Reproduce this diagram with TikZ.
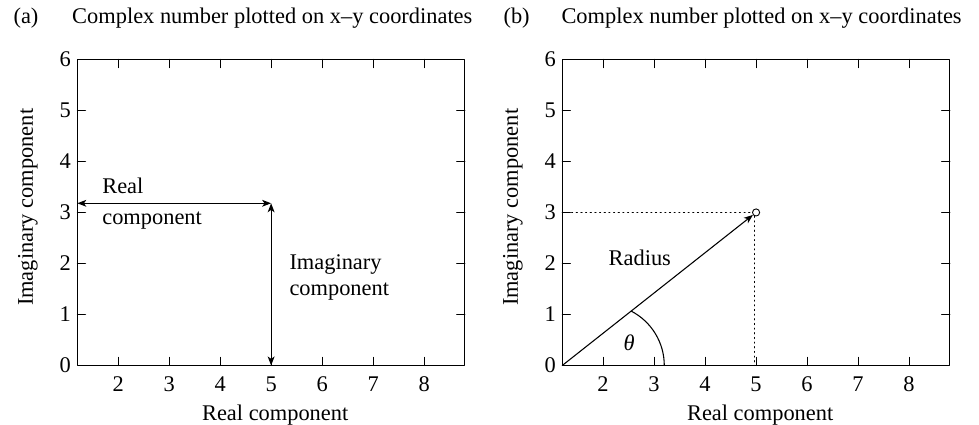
\documentclass[tikz,border=0pt]{standalone}
\usepackage{fontspec}
\setmainfont{Liberation Serif}
\usetikzlibrary{arrows.meta}

\begin{document}
\begin{tikzpicture}[>={Stealth[length=5pt,width=3.8pt,inset=1.3pt]}, font=\fontsize{12.5}{15}\selectfont, line join=round, line cap=round, line width=0.6pt]
        \def\xmin{1.2} \def\xmax{8.8} \def\ymax{6} \def\tk{0.16}
        \useasboundingbox (0,0) rectangle (19.196,8.333);
        % titles
        \node[anchor=base west, inner sep=0] (ta) at (0.255,7.88) {(a)};
        \node[anchor=base west, inner sep=0] (tta) at (1.406,7.88) {Complex number plotted on x--y coordinates};
        \node[anchor=base west, inner sep=0] (tb) at (9.863,7.88) {(b)};
        \node[anchor=base west, inner sep=0] (ttb) at (11.0,7.88) {Complex number plotted on x--y coordinates};
        % both frames
        \foreach \p/\sx in {a/0.316,b/9.825}{
          \begin{scope}[shift={(\sx,1.167)}]
            \draw (\xmin,0) rectangle (\xmax,\ymax);
            \foreach \x in {2,...,8}{
              \draw (\x,0) -- (\x,\tk);
              \draw (\x,\ymax) -- (\x,\ymax-\tk);
              \node (x\p\x) at (\x,-0.36) {\x};
            }
            \foreach \y in {1,...,5}{
              \draw (\xmin,\y) -- (\xmin+\tk,\y);
              \draw (\xmax,\y) -- (\xmax-\tk,\y);
            }
            \foreach \y in {0,...,6}
              \node[left] (y\p\y) at (\xmin,\y) {\y};
            \node[anchor=base] (xl\p) at (5.08,-1.08) {Real component};
            \node[rotate=90] (yl\p) at (0.23,3.1) {Imaginary component};
          \end{scope}
        }
        % (a) components
        \begin{scope}[shift={(0.316,1.167)}]
          \coordinate (A) at (\xmin,3.18);
          \coordinate (P) at (5,3.18);
          \coordinate (Q) at (5,0);
          \draw[<->] (A) -- (P);
          \draw[<->] (P) -- (Q);
          \node[anchor=base west, inner sep=0] (re1) at (1.68,3.376) {Real};
          \node[anchor=base west, inner sep=0] (re2) at (1.68,2.755) {component};
          \node[anchor=base west, inner sep=0] (im1) at (5.35,1.886) {Imaginary};
          \node[anchor=base west, inner sep=0] (im2) at (5.35,1.38) {component};
        \end{scope}
        % (b) radius and angle
        \begin{scope}[shift={(9.825,1.167)}]
          \coordinate (O) at (\xmin,0);
          \coordinate (B) at (\xmin,3);
          \node[circle, draw, inner sep=0, minimum size=0.14cm, line width=0.5pt] (pt) at (5,3) {};
          \draw[dotted] (B) -- (pt.west);
          \draw[dotted] (pt.250) -- (pt.250 |- O);
          \draw[->] (O) -- (pt);
          \draw (2,0) ++(62.5:1.2) arc[start angle=62.5, end angle=0, radius=1.2];
          \node (th) at (2.51,0.44) {\itshape θ};
          \node (rad) at (2.72,2.11) {Radius};
        \end{scope}
\end{tikzpicture}
\end{document}
